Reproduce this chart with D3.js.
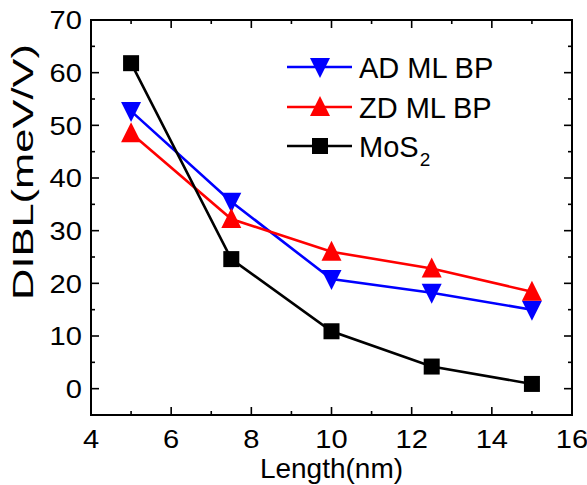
<!DOCTYPE html>
<html>
<head>
<meta charset="utf-8">
<script src="https://cdn.jsdelivr.net/npm/d3@7"></script>
<style>
  body { margin: 0; background: #fff; }
  text { font-family: Arial, "Liberation Sans", sans-serif; fill: #000; }
</style>
</head>
<body>
<svg id="chart" width="587" height="485"></svg>
<script>
// data
const lengths = [5, 7.5, 10, 12.5, 15];
const adML = [52.7, 35.5, 20.8, 18.2, 15.0];
const zdML = [48.5, 32.2, 26.0, 22.8, 18.4];
const mos2 = [61.8, 24.6, 10.9, 4.2, 0.9];
const xTicks = [4, 6, 8, 10, 12, 14, 16];
const yTicks = [0, 10, 20, 30, 40, 50, 60, 70];

const svg = d3.select('#chart');
// plot box edges ("top" is taken by window.top, so prefix them)
const plotLeft = 91, plotRight = 572, plotTop = 20, plotBottom = 415;

const x = d3.scaleLinear().domain([4, 16]).range([plotLeft, plotRight]);
const y = d3.scaleLinear().domain([-5, 70]).range([plotBottom, plotTop]);

// frame
svg.append('rect')
    .attr('x', plotLeft).attr('y', plotTop)
    .attr('width', plotRight - plotLeft).attr('height', plotBottom - plotTop)
    .attr('fill', 'none').attr('stroke', '#000').attr('stroke-width', 2);

// inward ticks on all four sides
const xMinor = d3.range(4, 16.01, 1);
const yMinor = d3.range(-5, 70.01, 5);
const ticks = svg.append('g').attr('stroke', '#000').attr('stroke-width', 1.6);
xMinor.forEach(function(v){
    let len = (v % 2 === 0) ? 8 : 4;
    if(v === 4 || v === 16) return;
    ticks.append('line').attr('x1', x(v)).attr('x2', x(v)).attr('y1', plotBottom).attr('y2', plotBottom - len);
    ticks.append('line').attr('x1', x(v)).attr('x2', x(v)).attr('y1', plotTop).attr('y2', plotTop + len);
});
yMinor.forEach(function(v){
    let len = (v % 10 === 0) ? 8 : 4;
    if(v === -5 || v === 70) return;
    ticks.append('line').attr('y1', y(v)).attr('y2', y(v)).attr('x1', plotLeft).attr('x2', plotLeft + len);
    ticks.append('line').attr('y1', y(v)).attr('y2', y(v)).attr('x1', plotRight).attr('x2', plotRight - len);
});

// tick labels, a little wider than tall like the original
svg.append('g').selectAll('text').data(xTicks).enter().append('text')
    .attr('transform', function(d){ return `translate(${x(d)},448) scale(1.12,1)`; })
    .attr('text-anchor', 'middle')
    .attr('font-size', 26)
    .text(function(d){ return d; });

svg.append('g').selectAll('text').data(yTicks).enter().append('text')
    .attr('transform', function(d){ return `translate(82,${y(d) + 9.3}) scale(1.12,1)`; })
    .attr('text-anchor', 'end')
    .attr('font-size', 26)
    .text(function(d){ return d; });

// axis titles
svg.append('text')
    .attr('x', (plotLeft + plotRight) / 2).attr('y', 478)
    .attr('text-anchor', 'middle')
    .attr('font-size', 28)
    .text('Length(nm)');

svg.append('text')
    .attr('transform', 'translate(33,172) rotate(-90)')
    .attr('text-anchor', 'middle')
    .attr('font-size', 30)
    .attr('textLength', 256)
    .attr('lengthAdjust', 'spacingAndGlyphs')
    .text('DIBL(meV/V)');

const series = [
    {name: 'AD ML BP', values: adML, color: '#0000ff', symbol: 'down'},
    {name: 'ZD ML BP', values: zdML, color: '#ff0000', symbol: 'up'},
    {name: 'MoS', sub: '2', values: mos2, color: '#000000', symbol: 'square'}
];

function marker(g, cx, cy, s){
    if(s.symbol === 'square'){
        g.append('rect').attr('x', cx - 8).attr('y', cy - 8)
            .attr('width', 16).attr('height', 16).attr('fill', s.color);
    }else if(s.symbol === 'down'){
        g.append('path').attr('d', `M${cx-10},${cy-9} L${cx+10},${cy-9} L${cx},${cy+11} Z`).attr('fill', s.color);
    }else{
        g.append('path').attr('d', `M${cx-10},${cy+9} L${cx+10},${cy+9} L${cx},${cy-11} Z`).attr('fill', s.color);
    }
}

const line = d3.line()
    .x(function(d, i){ return x(lengths[i]); })
    .y(function(d){ return y(d); });

series.forEach(function(s){
    svg.append('path')
        .attr('d', line(s.values))
        .attr('fill', 'none')
        .attr('stroke', s.color)
        .attr('stroke-width', 2.6);
});
series.forEach(function(s){
    let g = svg.append('g');
    s.values.forEach(function(v, i){ marker(g, x(lengths[i]), y(v), s); });
});

// legend
const legendRows = [67, 107, 146];
series.forEach(function(s, i){
    let ly = legendRows[i];
    let g = svg.append('g');
    g.append('line').attr('x1', 287).attr('x2', 352).attr('y1', ly).attr('y2', ly)
        .attr('stroke', s.color).attr('stroke-width', 2.6);
    marker(g, 320, ly, s);
    let t = g.append('text').attr('x', 359).attr('y', ly + 11).attr('font-size', 29).text(s.name);
    if(s.sub){
        t.append('tspan').attr('font-size', 19).attr('dy', 9).attr('dx', 1).text(s.sub);
    }
});
</script>
</body>
</html>
